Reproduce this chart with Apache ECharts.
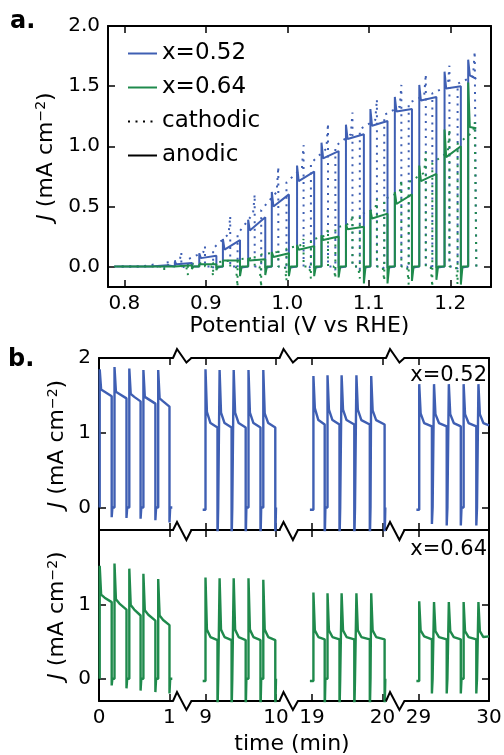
<!DOCTYPE html>
<html><head><meta charset="utf-8">
<script src="https://cdn.jsdelivr.net/npm/echarts@6/dist/echarts.min.js"></script>
<style>html,body{margin:0;padding:0;background:#fff}#c{width:504px;height:755px}</style>
</head><body><div id="c"></div>
<script>
// ---------------- Panel a: chopped-light voltammetry ----------------
const aXTicks = [0.8, 0.9, 1.0, 1.1, 1.2];
const aYTicks = [0, 0.5, 1.0, 1.5, 2.0];
// anodic (forward) sweep: light-on / light-off potentials
const vOnA  = [0.802, 0.832, 0.862, 0.892, 0.921, 0.952, 0.981, 1.012, 1.042, 1.072, 1.102, 1.132, 1.162, 1.193, 1.222];
const vOffA = [0.823, 0.853, 0.883, 0.913, 0.942, 0.973, 1.002, 1.033, 1.063, 1.094, 1.123, 1.153, 1.183, 1.213, null];
const peakA52  = [0.01, 0.015, 0.04, 0.11, 0.23, 0.39, 0.62, 0.84, 1.03, 1.18, 1.31, 1.41, 1.51, 1.62, 1.72];
const startA52 = [0.0, 0.005, 0.02, 0.07, 0.14, 0.30, 0.50, 0.71, 0.90, 1.06, 1.17, 1.29, 1.38, 1.48, 1.59];
const endA52   = [0.0, 0.01, 0.03, 0.09, 0.22, 0.41, 0.60, 0.79, 0.96, 1.10, 1.21, 1.31, 1.41, 1.50, 1.56];
const troughA52 = [0, 0, 0, -0.01, -0.01, -0.01, -0.01, -0.01, -0.01, -0.01, -0.01, -0.01, -0.01, -0.01, null];
const peakA64  = [0.01, 0.01, 0.01, 0.02, 0.05, 0.07, 0.12, 0.18, 0.26, 0.35, 0.47, 0.62, 0.84, 1.14, 1.53];
const startA64 = [0.0, 0.0, 0.01, 0.02, 0.04, 0.05, 0.08, 0.14, 0.22, 0.31, 0.40, 0.52, 0.71, 0.91, 1.16];
const endA64   = [0.0, 0.0, 0.01, 0.02, 0.05, 0.06, 0.11, 0.17, 0.25, 0.33, 0.44, 0.60, 0.77, 1.00, 1.15];
const troughA64 = [-0.01, -0.01, -0.02, -0.03, -0.08, -0.07, -0.08, -0.08, -0.09, -0.14, -0.14, -0.12, -0.11, -0.15, null];
// cathodic (reverse) sweep
const vOnC  = [1.230, 1.199, 1.170, 1.140, 1.110, 1.080, 1.050, 1.020, 0.989, 0.960, 0.930, 0.899, 0.870, 0.840, 0.810];
const vOffC = [1.209, 1.178, 1.149, 1.119, 1.089, 1.059, 1.029, 0.999, 0.968, 0.939, 0.909, 0.878, 0.849, 0.819, 0.789];
const peakC52  = [1.79, 1.67, 1.60, 1.51, 1.39, 1.28, 1.19, 1.01, 0.83, 0.60, 0.42, 0.17, 0.12, 0.02, 0.01];
const startC52 = [1.58, 1.50, 1.42, 1.33, 1.22, 1.10, 0.98, 0.82, 0.62, 0.44, 0.27, 0.12, 0.05, 0.01, 0.0];
const endC52   = [1.52, 1.44, 1.36, 1.26, 1.14, 1.00, 0.86, 0.70, 0.47, 0.27, 0.15, 0.06, 0.03, 0.0, 0.0];
const troughC52 = [-0.02, -0.03, -0.02, -0.02, -0.03, -0.03, -0.02, -0.03, -0.03, -0.02, -0.02, -0.01, -0.01, 0, 0];
const peakC64  = [1.20, 1.14, 0.95, 0.72, 0.56, 0.43, 0.31, 0.23, 0.15, 0.09, 0.05, 0.03, 0.02, 0.01, 0.01];
const startC64 = [1.12, 0.95, 0.78, 0.62, 0.48, 0.36, 0.26, 0.18, 0.12, 0.07, 0.04, 0.02, 0.01, 0.0, 0.0];
const endC64   = [1.02, 0.86, 0.70, 0.56, 0.43, 0.32, 0.22, 0.15, 0.10, 0.06, 0.03, 0.02, 0.01, 0.0, 0.0];
const troughC64 = [-0.15, -0.17, -0.15, -0.12, -0.10, -0.10, -0.10, -0.12, -0.17, -0.17, -0.08, -0.07, -0.03, -0.01, 0];
const sweepStart = 0.79, sweepTurn = 1.232;

// ---------------- Panel b: chronoamperometry ----------------
const segStart = [0, 8.8, 18.8, 28.8];
const segEnd   = [1.05, 10.05, 20.05, 30];
const segTicks = [[0, 1], [9, 10], [19, 20], [29, 30]];
const leadIn  = [null, 8.96, 18.97, 28.97];
const leadVal = [0, -0.03, -0.03, -0.03];
const recEnd  = [1.04, 10.0, 20.04, 30];
const tOn  = [[0.01, 0.22, 0.43, 0.63, 0.84], [9.0, 9.2, 9.4, 9.61, 9.82], [19.02, 19.22, 19.42, 19.63, 19.84], [29.01, 29.22, 29.43, 29.64, 29.85]];
const tOff = [[0.18, 0.39, 0.59, 0.80, 1.00], [9.17, 9.37, 9.57, 9.78, 9.99], [19.18, 19.39, 19.60, 19.82, 20.03], [29.19, 29.40, 29.60, 29.82, null]];
const peak52  = [[1.85, 1.88, 1.86, 1.84, 1.84], [1.85, 1.84, 1.84, 1.84, 1.84], [1.76, 1.77, 1.77, 1.77, 1.76], [1.65, 1.65, 1.65, 1.65, 1.65]];
const knee1_52 = [[1.58, 1.55, 1.52, 1.48, 1.46], [1.28, 1.27, 1.27, 1.27, 1.26], [1.33, 1.31, 1.31, 1.31, 1.30], [1.26, 1.25, 1.25, 1.25, 1.25]];
const knee2_52 = [[1.55, 1.52, 1.48, 1.45, 1.42], [1.13, 1.13, 1.13, 1.13, 1.13], [1.17, 1.17, 1.17, 1.17, 1.17], [1.13, 1.13, 1.13, 1.13, 1.13]];
const end52   = [[1.49, 1.46, 1.42, 1.39, 1.35], [1.07, 1.07, 1.07, 1.07, 1.07], [1.11, 1.11, 1.11, 1.11, 1.11], [1.085, 1.085, 1.085, 1.085, 1.10]];
const trough52 = [[-0.13, -0.14, -0.15, -0.17, -0.20], [-0.45, -0.45, -0.45, -0.45, -0.45], [-0.45, -0.45, -0.45, -0.45, -0.45], [-0.22, -0.24, -0.24, -0.24, null]];
const peak64  = [[1.52, 1.55, 1.48, 1.41, 1.34], [1.36, 1.35, 1.35, 1.35, 1.33], [1.16, 1.15, 1.15, 1.15, 1.15], [1.04, 1.03, 1.03, 1.03, 1.03]];
const knee1_64 = [[1.13, 1.07, 0.99, 0.92, 0.85], [0.66, 0.66, 0.66, 0.66, 0.66], [0.65, 0.65, 0.65, 0.65, 0.65], [0.65, 0.64, 0.64, 0.64, 0.64]];
const knee2_64 = [[1.09, 1.01, 0.93, 0.86, 0.79], [0.56, 0.56, 0.56, 0.56, 0.56], [0.56, 0.56, 0.56, 0.56, 0.56], [0.57, 0.56, 0.56, 0.56, 0.56]];
const end64   = [[1.03, 0.93, 0.85, 0.78, 0.72], [0.52, 0.52, 0.52, 0.52, 0.52], [0.53, 0.53, 0.53, 0.53, 0.53], [0.53, 0.53, 0.53, 0.53, 0.57]];
const trough64 = [[-0.09, -0.13, -0.16, -0.18, -0.20], [-0.45, -0.45, -0.45, -0.45, -0.45], [-0.45, -0.45, -0.45, -0.45, -0.45], [-0.20, -0.20, -0.20, -0.20, null]];
const bYTicksTop = [0, 1, 2];
const bYTicksBottom = [0, 1];

// ---------------- styling / layout ----------------
const FONT = 'DejaVu Sans';
const BLUE = '#3f5fb3';
const GREEN = '#1f8a4c';
const DOT = [2, 5.5];
const A = { left: 108, top: 26, width: 383, height: 261 };
const B = { left: 99, right: 489, rowTop: [358, 530], rowH: [172, 171], gap: 18.4 };
const spikeDV = 0.002, kneeDt = [0.02, 0.07], recDt = 0.01;

function sweep(vOn, vOff, peak, start, end, trough, dir, vBegin) {
  const pts = [[vBegin, 0]];
  for (let i = 0; i < vOn.length; i++) {
    pts.push([vOn[i], 0], [vOn[i], peak[i]], [vOn[i] + dir * spikeDV, start[i]]);
    if (vOff[i] === null) { pts.push([sweepTurn, end[i]]); continue; }
    pts.push([vOff[i], end[i]], [vOff[i], trough[i]], [vOff[i] + dir * spikeDV, 0]);
  }
  return pts;
}
function chrono(s, peak, k1, k2, end, trough) {
  const pts = [];
  if (leadIn[s] !== null) pts.push([leadIn[s], leadVal[s]]);
  for (let c = 0; c < tOn[s].length; c++) {
    const on = tOn[s][c];
    pts.push([on, c === 0 ? leadVal[s] : 0], [on, peak[s][c]], [on + kneeDt[0], k1[s][c]], [on + kneeDt[1], k2[s][c]]);
    const off = tOff[s][c];
    if (off === null) { pts.push([recEnd[s], end[s][c]]); continue; }
    pts.push([off, end[s][c]], [off, trough[s][c]], [off + recDt, 0]);
    if (c === tOn[s].length - 1 && recEnd[s] > off + recDt) pts.push([recEnd[s], 0]);
  }
  return pts;
}

const lab = { color: '#000', fontSize: 20, fontFamily: FONT };
function xAx(grid, pos, min, max, ticks, showLabel, fmt) {
  return {
    type: 'value', gridIndex: grid, position: pos, min, max,
    axisLine: { show: true, onZero: false, lineStyle: { color: '#000', width: 2 } },
    axisTick: { show: true, inside: true, length: 7, customValues: ticks, lineStyle: { color: '#000', width: 1.5 } },
    axisLabel: Object.assign({ show: showLabel, customValues: ticks, formatter: fmt, margin: 7 }, lab),
    splitLine: { show: false }
  };
}
function yAx(grid, pos, min, max, ticks, showLabel, fmt, show) {
  return {
    type: 'value', gridIndex: grid, position: pos, min, max, show: show !== false,
    axisLine: { show: true, onZero: false, lineStyle: { color: '#000', width: 2 } },
    axisTick: { show: true, inside: true, length: 7, customValues: ticks, lineStyle: { color: '#000', width: 1.5 } },
    axisLabel: Object.assign({ show: showLabel, customValues: ticks, formatter: fmt, margin: 8 }, lab),
    splitLine: { show: false }
  };
}
const jName = '{i|J} (mA cm{s|−2})';
const jRich = { i: { fontStyle: 'italic', fontSize: 22, fontFamily: FONT }, s: { fontSize: 14, fontFamily: FONT, verticalAlign: 'top', padding: [0, 0, 9, 0] } };
const nameStyle = { fontSize: 22, fontFamily: FONT, color: '#000', rich: jRich };

const grids = [Object.assign({ containLabel: false, outerBoundsMode: 'none' }, A)];
const xAxes = [
  Object.assign(xAx(0, 'bottom', 0.78, 1.25, aXTicks, true, v => v.toFixed(1)), {
    name: 'Potential (V vs RHE)', nameLocation: 'middle', nameGap: 26,
    nameTextStyle: { fontSize: 22, fontFamily: FONT, color: '#000' } }),
  xAx(0, 'top', 0.78, 1.25, aXTicks, false)
];
const yAxes = [
  Object.assign(yAx(0, 'left', -0.17, 2.0, aYTicks, true, v => v.toFixed(1)), {
    name: jName, nameLocation: 'middle', nameGap: 46, nameTextStyle: nameStyle }),
  yAx(0, 'right', -0.17, 2.0, aYTicks, false)
];
const series = [
  { name: 'c52', type: 'line', xAxisIndex: 0, yAxisIndex: 0, symbol: 'none', z: 2,
    lineStyle: { color: BLUE, width: 2, type: DOT }, itemStyle: { color: BLUE },
    data: sweep(vOnC, vOffC, peakC52, startC52, endC52, troughC52, -1, sweepTurn) },
  { name: 'c64', type: 'line', xAxisIndex: 0, yAxisIndex: 0, symbol: 'none', z: 2,
    lineStyle: { color: GREEN, width: 2, type: DOT }, itemStyle: { color: GREEN },
    data: sweep(vOnC, vOffC, peakC64, startC64, endC64, troughC64, -1, sweepTurn) },
  { name: 'x=0.52', type: 'line', xAxisIndex: 0, yAxisIndex: 0, symbol: 'none', z: 3,
    lineStyle: { color: BLUE, width: 2 }, itemStyle: { color: BLUE },
    data: sweep(vOnA, vOffA, peakA52, startA52, endA52, troughA52, 1, sweepStart) },
  { name: 'x=0.64', type: 'line', xAxisIndex: 0, yAxisIndex: 0, symbol: 'none', z: 4,
    lineStyle: { color: GREEN, width: 2 }, itemStyle: { color: GREEN },
    data: sweep(vOnA, vOffA, peakA64, startA64, endA64, troughA64, 1, sweepStart) },
  { name: 'cathodic', type: 'line', xAxisIndex: 0, yAxisIndex: 0, symbol: 'none', data: [],
    lineStyle: { color: '#000', width: 2, type: DOT }, itemStyle: { color: '#000' } },
  { name: 'anodic', type: 'line', xAxisIndex: 0, yAxisIndex: 0, symbol: 'none', data: [],
    lineStyle: { color: '#000', width: 2 }, itemStyle: { color: '#000' } }
];

// panel b grids
const ranges = segStart.map((s, i) => segEnd[i] - s);
const pxPerMin = (B.right - B.left - 3 * B.gap) / ranges.reduce((a, b) => a + b, 0);
const segLeft = [], segW = [];
let cur = B.left;
for (let s = 0; s < 4; s++) { segLeft.push(cur); segW.push(ranges[s] * pxPerMin); cur += segW[s] + B.gap; }
const rows = [
  { peak: peak52, k1: knee1_52, k2: knee2_52, end: end52, trough: trough52, color: BLUE, yt: bYTicksTop },
  { peak: peak64, k1: knee1_64, k2: knee2_64, end: end64, trough: trough64, color: GREEN, yt: bYTicksBottom }
];
rows.forEach((row, r) => {
  for (let s = 0; s < 4; s++) {
    const g = grids.length;
    grids.push({ left: segLeft[s], width: segW[s], top: B.rowTop[r], height: B.rowH[r], containLabel: false, outerBoundsMode: 'none' });
    xAxes.push(xAx(g, 'bottom', segStart[s], segEnd[s], segTicks[s], r === 1, v => String(v)));
    xAxes.push(xAx(g, 'top', segStart[s], segEnd[s], segTicks[s], false));
    const left = yAx(g, 'left', -0.3, 2.0, row.yt, s === 0, v => String(v), s === 0);
    if (s === 0) Object.assign(left, { name: jName, nameLocation: 'middle', nameGap: 30, nameTextStyle: nameStyle });
    yAxes.push(left);
    yAxes.push(yAx(g, 'right', -0.3, 2.0, row.yt, false, null, s === 3));
    series.push({ type: 'line', name: 'b' + r + s, xAxisIndex: xAxes.length - 2, yAxisIndex: yAxes.length - 2,
      symbol: 'none', lineStyle: { color: row.color, width: 2.4 }, itemStyle: { color: row.color },
      data: chrono(s, row.peak, row.k1, row.k2, row.end, row.trough) });
  }
});

// break marks and texts
const graphic = [];
const breakY = [[B.rowTop[0], -9, 4.5], [B.rowTop[1], -8, 10], [B.rowTop[1] + B.rowH[1], -9, 9]];
for (let s = 0; s < 3; s++) {
  const x0 = segLeft[s] + segW[s];
  breakY.forEach(([y, up, dn]) => {
    graphic.push({ type: 'polyline', silent: true, z: 100,
      shape: { points: [[x0, y], [x0 + 4, y + up], [x0 + 13.4, y + dn], [x0 + B.gap, y]] },
      style: { stroke: '#000', lineWidth: 2, fill: null } });
  });
}
function txt(t, x, y, font, align) {
  return { type: 'text', x, y, silent: true, z: 100,
    style: { text: t, font, fill: '#000', textAlign: align || 'left', textVerticalAlign: 'middle' } };
}
graphic.push(txt('a.', 10, 22, 'bold 24px "DejaVu Sans"'));
graphic.push(txt('b.', 8, 360, 'bold 24px "DejaVu Sans"'));
graphic.push(txt('time (min)', 292, 744, '22px "DejaVu Sans"', 'center'));
graphic.push(txt('x=0.52', 487, 376, '21px "DejaVu Sans"', 'right'));
graphic.push(txt('x=0.64', 487, 550, '21px "DejaVu Sans"', 'right'));

const chart = echarts.init(document.getElementById('c'), null, { renderer: 'canvas' });
chart.setOption({
  animation: false,
  backgroundColor: '#fff',
  grid: grids, xAxis: xAxes, yAxis: yAxes, series,
  legend: {
    data: ['x=0.52', 'x=0.64', 'cathodic', 'anodic'], orient: 'vertical', left: 122, top: 37,
    itemWidth: 29, itemHeight: 14, itemGap: 11, selectedMode: false,
    itemStyle: { opacity: 0 },
    textStyle: { fontSize: 23, fontFamily: FONT, color: '#000' }
  },
  graphic
});
</script></body></html>
